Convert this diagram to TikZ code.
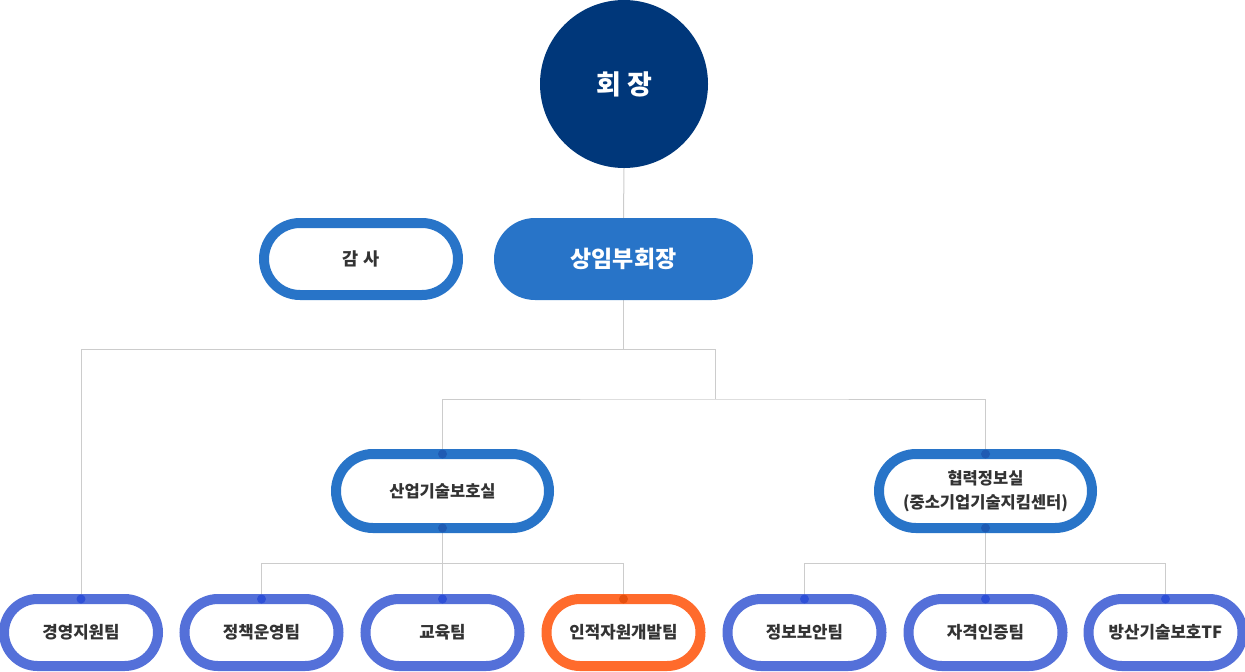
\documentclass[tikz,border=0pt]{standalone}
\usepackage{fontspec}
\setmainfont{Noto Sans CJK KR}
\pgfdeclarelayer{bg}
\pgfsetlayers{bg,main}
\definecolor{navy}{HTML}{00377A}
\definecolor{pblue}{HTML}{2874C8}
\definecolor{pdot}{HTML}{1F5BB3}
\definecolor{bblue}{HTML}{5470D9}
\definecolor{bdot}{HTML}{2F50D6}
\definecolor{orng}{HTML}{FF6B2C}
\definecolor{odot}{HTML}{E5500F}
\definecolor{lgray}{HTML}{CCCCCC}
\definecolor{txt}{HTML}{333333}
\begin{document}
\begin{tikzpicture}[x=1pt,y=-1pt,
  every node/.style={inner sep=0pt,outer sep=0pt,font=\bfseries},
  chairbox/.style={circle,fill=navy,minimum size=168pt,text=white,font=\bfseries\fontsize{27}{30}\selectfont},
  vpbox/.style={rectangle,rounded corners=41pt,fill=pblue,minimum width=259pt,minimum height=82pt,text=white,font=\bfseries\fontsize{23}{26}\selectfont},
  auditbox/.style={rectangle,rounded corners=36pt,draw=pblue,line width=10pt,fill=white,minimum width=194pt,minimum height=72pt,text=txt,font=\bfseries\fontsize{17.5}{20}\selectfont},
  divbox/.style={rectangle,rounded corners=37pt,draw=pblue,line width=10pt,fill=white,minimum width=213pt,minimum height=74pt,text=txt,align=center,font=\bfseries\fontsize{16.5}{23.5}\selectfont},
  teambox/.style={rectangle,rounded corners=33.5pt,draw=bblue,line width=10pt,fill=white,minimum width=154pt,minimum height=67pt,text=txt,font=\bfseries\fontsize{16.8}{19}\selectfont},
  hlbox/.style={teambox,draw=orng},
  conn/.style={draw=lgray,line width=1pt}
]
\useasboundingbox (0,0) rectangle (1245,672);
\node[chairbox] (chair) at (624,84) {회 장};
\node[vpbox] (vp) at (623.5,259) {상임부회장};
\node[auditbox] (audit) at (361,259) {감 사};
\node[divbox] (d1) at (442.5,491) {산업기술보호실};
\node[divbox] (d2) at (985.5,491) {협력정보실\\(중소기업기술지킴센터)};
\node[teambox] (t1) at (81,632.5) {경영지원팀};
\node[teambox] (t2) at (261.5,632.5) {정책운영팀};
\node[teambox] (t3) at (442.5,632.5) {교육팀};
\node[hlbox] (t4) at (623.5,632.5) {인적자원개발팀};
\node[teambox] (t5) at (804.5,632.5) {정보보안팀};
\node[teambox] (t6) at (985.5,632.5) {자격인증팀};
\node[teambox] (t7) at (1165.5,632.5) {방산기술보호TF};
\coordinate (h1) at (715,349);
\coordinate (h2) at (715,399);
\coordinate (h3) at (0,563);
\begin{pgfonlayer}{bg}
\draw[conn] (chair.south) -- (vp.north);
\draw[conn] (vp.south) -- (vp.south |- h1);
\draw[conn] (t1.north) |- (h1) -- (h2);
\draw[conn] (d1.north) |- (h2) -| (d2.north);
\draw[conn] (d1.south) -- (t3.north);
\draw[conn] (t2.north) -- (t2.north |- h3) -- (t4.north |- h3) -- (t4.north);
\draw[conn] (d2.south) -- (t6.north);
\draw[conn] (t5.north) -- (t5.north |- h3) -- (t7.north |- h3) -- (t7.north);
\end{pgfonlayer}
\foreach \n in {d1,d2}{\fill[pdot] (\n.north) circle (4.5pt); \fill[pdot] (\n.south) circle (4.5pt);}
\foreach \n in {t1,t2,t3,t5,t6,t7}{\fill[bdot] (\n.north) circle (4.5pt);}
\fill[odot] (t4.north) circle (4.5pt);
\end{tikzpicture}
\end{document}
